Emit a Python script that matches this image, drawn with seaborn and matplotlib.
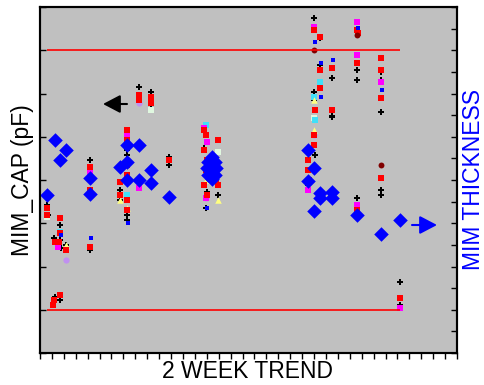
import matplotlib
matplotlib.use("Agg")
import matplotlib.pyplot as plt
import seaborn as sns
import pandas as pd

sns.set_theme(style="white")
plt.rcParams['font.family'] = ['Liberation Sans', 'DejaVu Sans']

# ---- data (MIM_CAP, left axis) ----
red_x = [0.6, 0.6,  1.3, 1.2, 1.1,  1.7, 1.7, 1.6, 1.7,  2.2,  4.2, 4.2, 4.2,  6.7, 6.7,
         7.3, 7.3, 7.3, 7.3, 7.3, 7.3,  8.3, 8.3,  9.3, 9.3,  10.8,
         13.8, 13.9, 13.8, 14.0, 13.9, 13.8, 14.0,  14.9, 14.8, 14.9,
         22.5, 22.5, 22.6,  23.0, 23.1, 23.0, 23.0,  23.5, 23.5, 23.5,  24.5, 24.5,
         26.6, 26.7, 26.6, 26.6,  28.6, 28.6, 28.6, 28.6,  30.2]
red_y = [3.35, 3.19,  2.57, 1.23, 1.11,  3.12, 2.77, 2.57, 1.34,  2.38,  4.30, 3.77, 2.45,  3.95, 3.65,
         5.16, 4.92, 4.35, 4.12, 3.54, 3.31,  5.97, 5.85,  5.92, 5.78,  4.46,
         5.16, 5.04, 4.69, 4.46, 4.23, 3.88, 3.65,  4.92, 4.00, 3.88,
         4.46, 4.23, 4.00,  7.47, 5.62, 5.04, 4.81,  7.31, 6.54, 6.13,  6.59, 5.62,
         7.47, 7.40, 6.70, 3.31,  6.82, 6.54, 5.90, 4.05,  1.27]

black_x = [0.6, 0.7,  1.2, 1.3, 1.2,  1.7, 1.7, 1.8, 1.7,  2.2, 2.2,  4.2, 4.2,  6.7, 6.7,
           7.3, 7.3, 7.3, 7.3,  8.3, 8.3,  9.3, 9.3,  10.8, 10.8,
           13.9, 13.8, 14.0, 13.9,  14.9,  22.5,  23.0, 23.0, 23.0, 23.1,  23.5, 23.5,
           24.5, 24.5, 24.5,  26.6, 26.6, 26.6,  28.6, 28.6, 28.6, 28.6, 28.6,  30.2, 30.2]
black_y = [3.42, 3.19,  2.66, 1.29, 1.18,  2.96, 2.61, 2.43, 1.23,  2.50, 2.38,  4.46, 2.38,  3.77, 3.54,
           4.69, 4.58, 3.19, 3.08,  6.15, 4.05,  6.03, 5.73,  4.53, 4.35,
           5.27, 4.74, 3.72, 3.35,  3.65,  3.88,  7.75, 6.03, 5.85, 4.58,  7.29, 6.66,
           6.36, 5.48, 5.45,  6.54, 6.31, 3.58,  6.50, 6.31, 5.57, 3.77, 3.65,  1.64, 1.11]

magenta_x = [1.5, 4.2, 7.3, 7.3, 8.3, 13.8, 14.0, 13.9, 22.5, 23.0, 26.6, 26.6, 26.6, 28.6, 30.2]
magenta_y = [2.45, 4.18, 5.04, 4.00, 3.82, 5.20, 4.88, 3.58, 3.77, 7.54, 7.65, 6.89, 3.42, 6.27, 1.04]

yellow_x = [2.2, 6.7, 7.3, 13.9, 14.9, 23.0, 23.0]
yellow_y = [2.50, 3.54, 3.35, 4.00, 3.54, 5.85, 5.16]

cyan_x = [1.7, 7.3, 13.9, 23.0, 23.1, 23.5]
cyan_y = [2.80, 3.65, 5.27, 5.92, 5.39, 6.27]

mint_x = [0.6, 9.3, 13.9, 14.9, 23.0]
mint_y = [3.14, 5.62, 4.35, 4.65, 5.43]

lavender_x = [2.2, 8.3, 13.9, 23.0]
lavender_y = [2.15, 5.78, 3.58, 5.04]

darkred_x = [23.0, 26.6, 28.6]
darkred_y = [7.00, 7.35, 4.35]

bluedash_x = [1.8, 4.3, 7.4, 14.0, 23.1, 23.6, 23.6, 24.6, 26.7, 28.7]
bluedash_y = [2.73, 2.66, 3.00, 3.35, 7.19, 6.70, 5.92, 6.77, 7.51, 6.08]

# ---- data (MIM THICKNESS, right axis) ----
thick_x = [0.6, 1.3, 1.7, 2.2, 4.2, 4.2, 6.7, 7.3, 7.3, 7.3, 8.3, 8.3, 9.3, 9.3, 10.8,
           14.4, 14.0, 14.8, 14.4, 14.4, 14.1, 14.7, 14.1, 14.7,
           22.5, 22.5, 23.0, 23.0, 23.5, 23.5, 24.5, 24.5, 26.6, 28.6, 30.2]
thick_y = [7.31, 9.85, 8.92, 9.39, 8.09, 7.35, 8.60, 9.62, 8.83, 8.00, 9.62, 8.00, 8.46, 7.86, 7.21,
           8.55, 8.55, 8.55, 9.05, 8.05, 8.85, 8.85, 8.25, 8.25,
           9.39, 7.95, 8.55, 6.57, 7.40, 7.17, 7.45, 7.17, 6.38, 5.50, 6.15]

spec_lo, spec_hi = 1.0, 7.0
spec_x0, spec_x1 = 0.6, 30.2

fig = plt.figure(figsize=(4.84, 3.85), dpi=100)
ax = fig.add_axes([40/484, 1-353/385, 417/484, 346/385])
ax.set_facecolor('#c0c0c0')

series = [
    (black_x, black_y, 'P', '#000000', 16),
    (lavender_x, lavender_y, 'o', '#c090f0', 20),
    (mint_x, mint_y, 's', '#e0f8e0', 20),
    (cyan_x, cyan_y, 's', '#40e0f8', 18),
    (yellow_x, yellow_y, '^', '#ffff80', 22),
    (magenta_x, magenta_y, 's', '#ff00ff', 20),
    (red_x, red_y, 's', '#ff0000', 24),
    (darkred_x, darkred_y, 'o', '#800000', 18),
    (bluedash_x, bluedash_y, 's', '#0000ff', 6),
]
for xs, ys, mk, col, sz in series:
    df = pd.DataFrame({'day': xs, 'cap': ys})
    sns.scatterplot(data=df, x='day', y='cap', ax=ax, marker=mk, color=col, s=sz,
                    linewidth=0, legend=False)

ax.hlines([spec_hi, spec_lo], spec_x0, spec_x1, colors='#ff0000', linewidth=1.2, zorder=1)

ax.set_xlim(0, 35)
ax.set_ylim(0, 8)
ax.set_xticks(range(0, 36))
ax.set_yticks(range(0, 9))
ax.set_xticklabels([])
ax.set_yticklabels([])
ax.tick_params(axis='x', direction='out', length=4, width=1, color='black', bottom=True)
ax.tick_params(axis='y', direction='in', length=4, width=1, color='black', left=True)
for sp in ax.spines.values():
    sp.set_color('black')
    sp.set_linewidth(1.5)
ax.set_xlabel('')
ax.set_ylabel('')

ax2 = ax.twinx()
dft = pd.DataFrame({'day': thick_x, 'thick': thick_y})
sns.scatterplot(data=dft, x='day', y='thick', ax=ax2, marker='D', color='#0000ff', s=55,
                linewidth=0, legend=False)
ax2.set_ylim(0, 16)
ax2.set_yticks(range(0, 17))
ax2.set_yticklabels([])
ax2.tick_params(axis='y', direction='in', length=4, width=1, color='black', right=True)
ax2.set_ylabel('')
ax2.set_xlim(0, 35)
for sp in ax2.spines.values():
    sp.set_color('black')
    sp.set_linewidth(1.5)

# arrows
astyle = '-|>,head_length=1.05,head_width=0.55'
ax.annotate('', xy=(103/484, 1-104/385), xytext=(127/484, 1-104/385),
            xycoords='figure fraction', textcoords='figure fraction',
            arrowprops=dict(arrowstyle=astyle, mutation_scale=10,
                            color='black', lw=1.5, shrinkA=0, shrinkB=0))
ax.annotate('', xy=(437/484, 1-225/385), xytext=(412/484, 1-225/385),
            xycoords='figure fraction', textcoords='figure fraction',
            arrowprops=dict(arrowstyle=astyle, mutation_scale=10,
                            color='#0000ff', lw=1.5, shrinkA=0, shrinkB=0))

fig.text(23/484, 1-180/385, 'MIM_CAP (pF)', rotation=90, ha='center', va='center',
         fontsize=16.5, color='black')
fig.text(474/484, 1-180/385, 'MIM THICKNESS', rotation=90, ha='center', va='center',
         fontsize=16.5, color='#0000ff')
fig.text(247/484, 1-372/385, '2 WEEK TREND', ha='center', va='center',
         fontsize=16.5, color='black')

fig.savefig('out.png', dpi=100)
